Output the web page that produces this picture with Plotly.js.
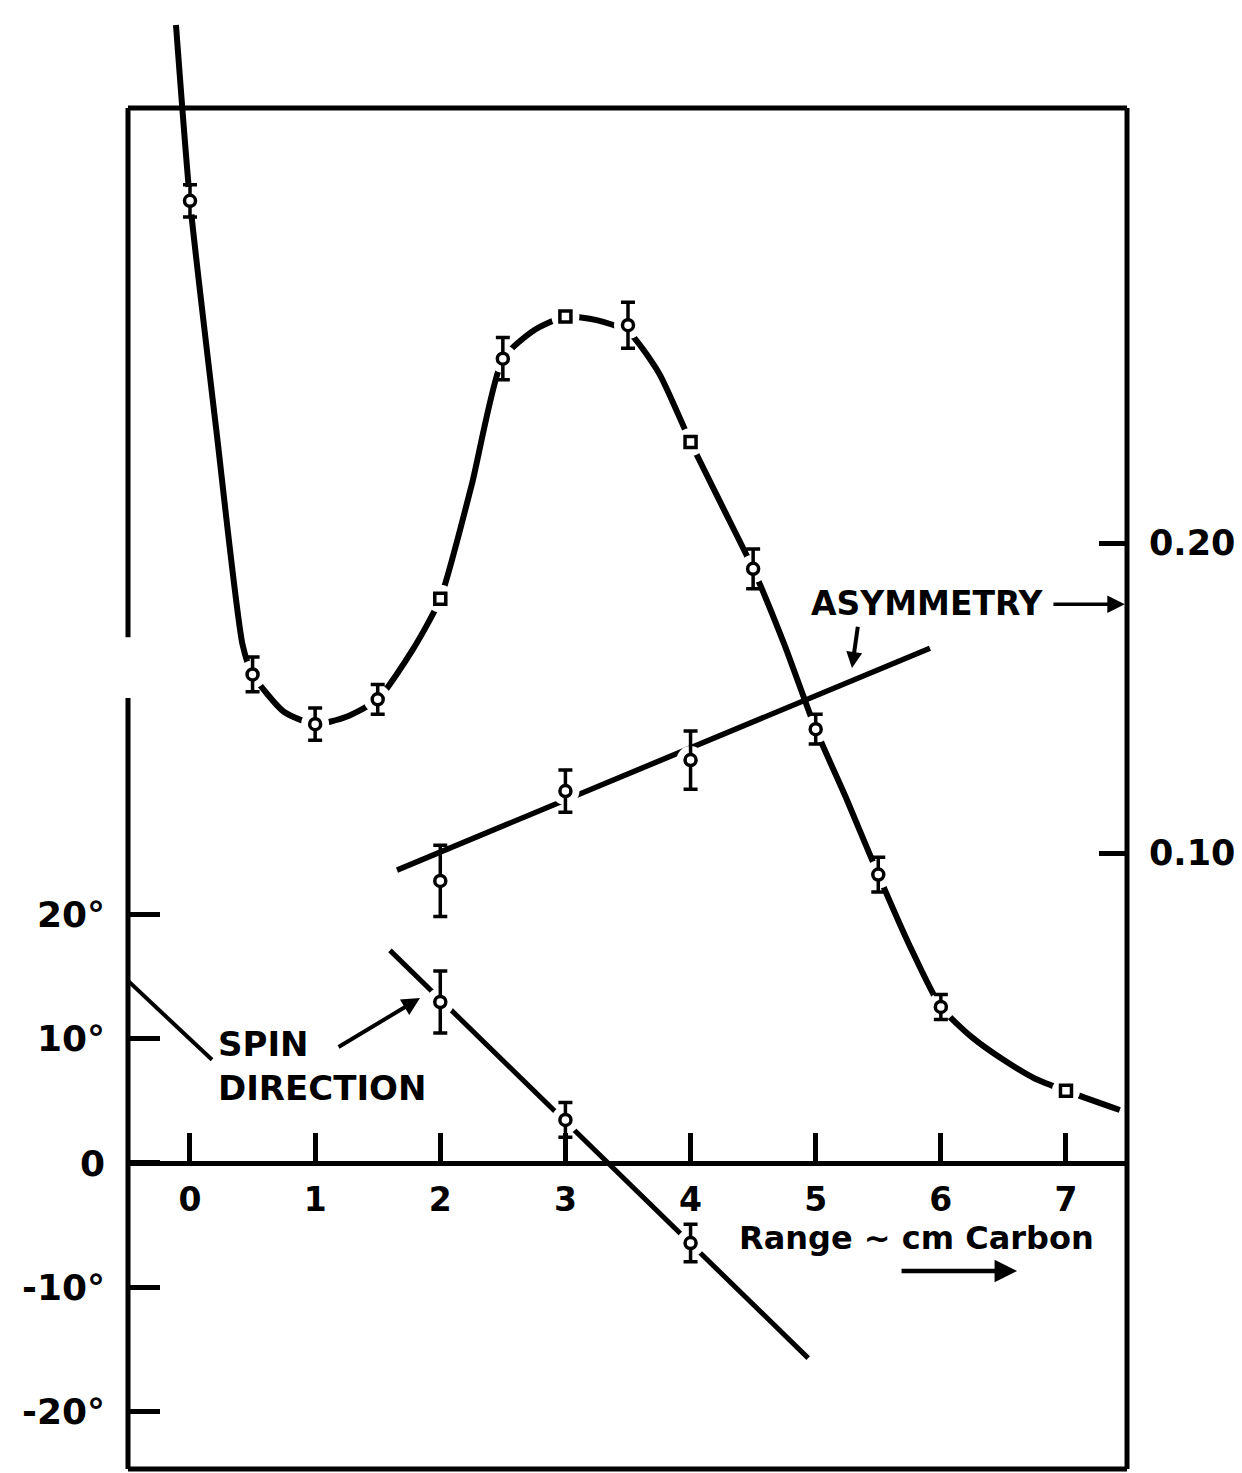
<!DOCTYPE html>
<html><head><meta charset="utf-8">
<script src="https://cdn.plot.ly/plotly-3.0.1.min.js"></script>
<style>html,body{margin:0;padding:0;background:#fff}#chart{width:1242px;height:1473px}</style>
</head><body><div id="chart"></div>
<script>
// ---- tick labels ----
const rangeTicks = [0, 1, 2, 3, 4, 5, 6, 7];
const rangeTickText = ['0', '1', '2', '3', '4', '5', '6', '7'];
const spinTicks = [-20, -10, 0, 10, 20];
const spinTickText = ['-20°', '-10°', '0', '10°', '20°'];
const asymTicks = [0.10, 0.20];
const asymTickText = ['0.10', '0.20'];

// ---- range curve (arbitrary units) ----
const curveCircleRange = [0, 0.5, 1, 1.5, 2.5, 3.5, 4.5, 5, 5.5, 6];
const curveCircleValue = [77.4, 39.3, 35.3, 37.3, 64.7, 67.4, 47.8, 34.9, 23.2, 12.55];
const curveCircleError = [1.3, 1.4, 1.3, 1.2, 1.7, 1.85, 1.6, 1.2, 1.4, 1.0];
const curveSquareRange = [2, 3, 4, 7];
const curveSquareValue = [45.4, 68.1, 58.0, 5.8];
const curveLineRange = [-0.112, 0, 0.21, 0.42, 0.5, 0.75, 1, 1.25, 1.5, 1.78, 2, 2.25, 2.5, 2.75, 3, 3.25, 3.5, 3.75, 4, 4.25, 4.5, 4.75, 5, 5.25, 5.5, 5.75, 6, 6.25, 6.5, 6.75, 7, 7.43];
const curveLineValue = [91.55, 77.4, 59.0, 41.7, 39.3, 36.3, 35.3, 35.9, 37.3, 41.3, 45.4, 54.5, 64.7, 67.0, 68.1, 67.8, 66.9, 63.5, 58.0, 52.9, 47.8, 41.7, 34.9, 29.2, 23.2, 17.5, 12.55, 10.1, 8.3, 6.8, 5.8, 4.26];

// ---- asymmetry ----
const asymRange = [2, 3, 4];
const asymValue = [0.091, 0.120, 0.130];
const asymError = [0.0115, 0.0068, 0.0094];
const asymLineRange = [1.654, 5.913];
const asymLineValue = [0.0945, 0.1661];

// ---- spin direction (degrees) ----
const spinRange = [2, 3, 4];
const spinValue = [12.95, 3.46, -6.44];
const spinError = [2.5, 1.4, 1.5];
const spinLineRange = [1.598, 4.94];
const spinLineValue = [17.1, -15.7];
const spinLeftLineRange = [-0.49, 0.176];
const spinLeftLineValue = [14.6, 8.3];

// ---- axes geometry ----
const X_RANGE = [-0.4954, 7.4876];
const Y_RANGE = [-24.62, 93.56];
const Y2_RANGE = [-0.0987, 0.3752];
const BOX_TOP = 84.87;
const LEFT_GAP = [37.4, 42.3];

const toPaper = v => (v - Y_RANGE[0]) / (Y_RANGE[1] - Y_RANGE[0]);
const FONT = {family: 'DejaVu Sans', color: '#000', weight: 'bold'};
const INK = '#000';

function lineTrace(x, y, yaxis, w, shape) {
  return {x, y, yaxis, type: 'scatter', mode: 'lines', line: {color: INK, width: w, shape: shape || 'linear', smoothing: 0.6}, hoverinfo: 'skip', showlegend: false};
}
function haloTrace(x, y, yaxis) {
  return {x, y, yaxis, type: 'scatter', mode: 'markers', marker: {symbol: 'circle', size: 28, color: 'white', line: {width: 0}}, hoverinfo: 'skip', showlegend: false};
}
function pointTrace(x, y, yaxis, err, symbol) {
  const t = {x, y, yaxis, type: 'scatter', mode: 'markers',
    marker: {symbol: symbol, size: 11, color: 'white', line: {color: INK, width: 3.5}},
    hoverinfo: 'skip', showlegend: false};
  if (err) t.error_y = {type: 'data', array: err, visible: true, color: INK, thickness: 3.5, width: 7};
  return t;
}

// lines on y / y2 / y3; white gaps and points on overlay copies y4 / y5 / y6 (drawn above)
const data = [
  lineTrace(spinLineRange, spinLineValue, 'y', 5),
  lineTrace(spinLeftLineRange, spinLeftLineValue, 'y', 4),
  lineTrace(asymLineRange, asymLineValue, 'y2', 5.5),
  lineTrace(curveLineRange, curveLineValue, 'y3', 6, 'spline'),

  haloTrace(spinRange, spinValue, 'y4'),
  pointTrace(spinRange, spinValue, 'y4', spinError, 'circle'),

  haloTrace(asymRange, asymValue, 'y5'),
  pointTrace(asymRange, asymValue, 'y5', asymError, 'circle'),

  haloTrace(curveCircleRange.concat(curveSquareRange), curveCircleValue.concat(curveSquareValue), 'y6'),
  pointTrace(curveCircleRange, curveCircleValue, 'y6', curveCircleError, 'circle'),
  pointTrace(curveSquareRange, curveSquareValue, 'y6', null, 'square')
];

const shapes = [
  {type: 'line', xref: 'paper', yref: 'paper', x0: 0, x1: 1, y0: toPaper(BOX_TOP), y1: toPaper(BOX_TOP), line: {color: INK, width: 5}},
  {type: 'line', xref: 'paper', yref: 'paper', x0: 0, x1: 1, y0: 0, y1: 0, line: {color: INK, width: 5}},
  {type: 'line', xref: 'paper', yref: 'paper', x0: 1, x1: 1, y0: 0, y1: toPaper(BOX_TOP), line: {color: INK, width: 5}},
  {type: 'line', xref: 'paper', yref: 'paper', x0: 0, x1: 0, y0: 0, y1: toPaper(LEFT_GAP[0]), line: {color: INK, width: 5}},
  {type: 'line', xref: 'paper', yref: 'paper', x0: 0, x1: 0, y0: toPaper(LEFT_GAP[1]), y1: toPaper(BOX_TOP), line: {color: INK, width: 5}}
];

const annotations = [
  {text: 'ASYMMETRY', xref: 'x', yref: 'y2', x: 5.894, y: 0.1806, showarrow: false, font: Object.assign({size: 33}, FONT)},
  {text: '', xref: 'x', yref: 'y2', x: 7.47, y: 0.1803, axref: 'x', ayref: 'y2', ax: 6.888, ay: 0.1803, showarrow: true, arrowhead: 2, arrowsize: 1, arrowwidth: 3.5, arrowcolor: INK},
  {text: '', xref: 'x', yref: 'y2', x: 5.29, y: 0.1597, axref: 'x', ayref: 'y2', ax: 5.338, ay: 0.1735, showarrow: true, arrowhead: 2, arrowsize: 0.8, arrowwidth: 4, arrowcolor: INK},
  {text: 'SPIN<br>DIRECTION', xref: 'x', yref: 'y', x: 0.21, y: 7.8, xanchor: 'left', align: 'left', showarrow: false, font: Object.assign({size: 34}, FONT)},
  {text: '', xref: 'x', yref: 'y', x: 1.838, y: 13.27, axref: 'x', ayref: 'y', ax: 1.175, ay: 9.25, showarrow: true, arrowhead: 2, arrowsize: 0.9, arrowwidth: 4, arrowcolor: INK},
  {text: 'Range ~ cm Carbon', xref: 'x', yref: 'y', x: 4.371, y: -6.03, xanchor: 'left', showarrow: false, font: Object.assign({size: 32}, FONT)},
  {text: '', xref: 'x', yref: 'y', x: 6.609, y: -8.69, axref: 'x', ayref: 'y', ax: 5.674, ay: -8.69, showarrow: true, arrowhead: 2, arrowsize: 1, arrowwidth: 4.5, arrowcolor: INK}
];

const hidden = r => ({range: r, overlaying: 'y', visible: false, fixedrange: true});

const layout = {
  width: 1242, height: 1473,
  margin: {l: 128, r: 115, t: 0, b: 4, pad: 0},
  paper_bgcolor: '#fff', plot_bgcolor: '#fff',
  showlegend: false,
  font: FONT,
  xaxis: {
    range: X_RANGE, anchor: 'free', position: toPaper(0),
    showgrid: false, zeroline: false, showline: true, linecolor: INK, linewidth: 5,
    tickmode: 'array', tickvals: rangeTicks, ticktext: rangeTickText,
    ticks: 'inside', ticklen: 28, tickwidth: 5, tickcolor: INK,
    ticklabelstandoff: 5, tickfont: Object.assign({size: 33}, FONT), fixedrange: true
  },
  yaxis: {
    range: Y_RANGE, showgrid: false, zeroline: false, showline: false,
    tickmode: 'array', tickvals: spinTicks, ticktext: spinTickText,
    ticks: 'inside', ticklen: 32, tickwidth: 5, tickcolor: INK,
    ticklabelstandoff: 22, tickfont: Object.assign({size: 36}, FONT), fixedrange: true
  },
  yaxis2: {
    range: Y2_RANGE, overlaying: 'y', side: 'right', showgrid: false, zeroline: false, showline: false,
    tickmode: 'array', tickvals: asymTicks, ticktext: asymTickText,
    ticks: 'inside', ticklen: 28, tickwidth: 5, tickcolor: INK,
    ticklabelstandoff: 21, tickfont: Object.assign({size: 35}, FONT), fixedrange: true
  },
  yaxis3: hidden(Y_RANGE),
  yaxis4: hidden(Y_RANGE),
  yaxis5: hidden(Y2_RANGE),
  yaxis6: hidden(Y_RANGE),
  shapes, annotations
};

Plotly.newPlot('chart', data, layout, {displayModeBar: false, staticPlot: true});
</script>
</body></html>
